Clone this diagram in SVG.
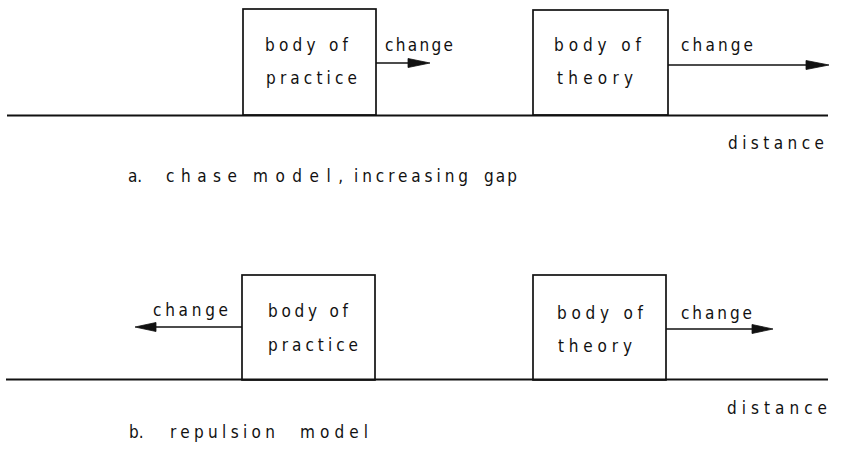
<svg xmlns="http://www.w3.org/2000/svg" width="844" height="449" viewBox="0 0 844 449">
<style>
  .box { fill: none; stroke: #111; stroke-width: 1.7; }
  .ground { stroke: #111; stroke-width: 1.9; fill: none; }
  .arrow { stroke: #111; stroke-width: 1.7; fill: none; }
  .head { fill: #111; stroke: #111; stroke-width: 0.8; stroke-linejoin: round; }
  text { font-family: "DejaVu Sans Condensed", "DejaVu Sans", "Liberation Sans", sans-serif; font-stretch: condensed; font-size: 17px; fill: #111; }
</style>
<rect width="844" height="449" fill="#fff"/>

<!-- (a) chase model -->
<g id="ground-a"><line class="ground" x1="7" y1="115.5" x2="828" y2="115.5"/></g>
<g id="practice-a">
  <rect class="box" x="243" y="9" width="133" height="106"/>
  <text x="265" y="51" textLength="83" lengthAdjust="spacing">body of</text>
  <text x="266" y="84" textLength="91" lengthAdjust="spacing">practice</text>
</g>
<g id="theory-a">
  <rect class="box" x="533" y="10" width="135" height="105"/>
  <text x="554" y="51" textLength="87" lengthAdjust="spacing">body of</text>
  <text x="557" y="84" textLength="76" lengthAdjust="spacing">theory</text>
</g>
<g id="connectors-a">
  <line class="arrow" x1="376" y1="63" x2="412" y2="63"/>
  <polygon class="head" points="408,58.5 430,63 408,67.5"/>
  <text x="385" y="51" textLength="68" lengthAdjust="spacing">change</text>
  <line class="arrow" x1="668" y1="65" x2="810" y2="65"/>
  <polygon class="head" points="806,60.5 829,65 806,69.5"/>
  <text x="681" y="51" textLength="72" lengthAdjust="spacing">change</text>
</g>
<text x="728" y="149" textLength="96" lengthAdjust="spacing">distance</text>
<text y="182"><tspan x="128">a.</tspan><tspan x="166" textLength="71" lengthAdjust="spacing">chase</tspan><tspan x="253" textLength="90" lengthAdjust="spacing">model,</tspan><tspan x="354" textLength="114" lengthAdjust="spacing">increasing</tspan><tspan x="484" textLength="33" lengthAdjust="spacing">gap</tspan></text>

<!-- (b) repulsion model -->
<g id="ground-b"><line class="ground" x1="6" y1="379.5" x2="828" y2="379.5"/></g>
<g id="practice-b">
  <rect class="box" x="242" y="275" width="133" height="105"/>
  <text x="268" y="317" textLength="80" lengthAdjust="spacing">body of</text>
  <text x="268" y="351" textLength="90" lengthAdjust="spacing">practice</text>
</g>
<g id="theory-b">
  <rect class="box" x="533" y="275" width="133" height="105"/>
  <text x="557" y="319" textLength="86" lengthAdjust="spacing">body of</text>
  <text x="558" y="352" textLength="74" lengthAdjust="spacing">theory</text>
</g>
<g id="connectors-b">
  <line class="arrow" x1="242" y1="327" x2="152" y2="327"/>
  <polygon class="head" points="156,322.5 135,327 156,331.5"/>
  <text x="153" y="316" textLength="75" lengthAdjust="spacing">change</text>
  <line class="arrow" x1="666" y1="329" x2="756" y2="329"/>
  <polygon class="head" points="752,324.5 773,329 752,333.5"/>
  <text x="681" y="319" textLength="71" lengthAdjust="spacing">change</text>
</g>
<text x="727" y="414" textLength="100" lengthAdjust="spacing">distance</text>
<text y="438"><tspan x="129">b.</tspan><tspan x="170" textLength="105" lengthAdjust="spacing">repulsion</tspan><tspan x="300" textLength="68" lengthAdjust="spacing">model</tspan></text>
</svg>
